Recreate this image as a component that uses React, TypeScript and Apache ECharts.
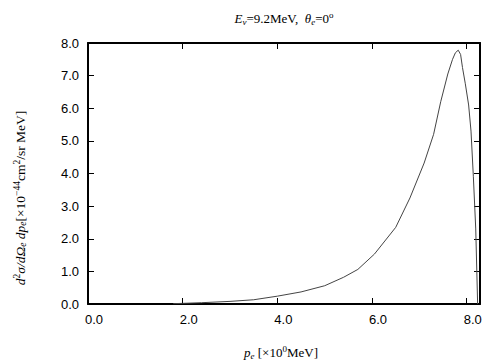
import React, { useEffect, useRef } from "react";
import * as echarts from "echarts";

const pE = [1.8, 2.0, 2.4, 3.0, 3.5, 4.0, 4.5, 5.0, 5.4, 5.7, 6.05, 6.5, 6.8, 7.1, 7.3, 7.45, 7.6, 7.7, 7.76, 7.82, 7.87, 7.91, 7.97, 8.04, 8.09, 8.14, 8.19, 8.23];
const xsec = [0.01, 0.02, 0.04, 0.08, 0.13, 0.24, 0.37, 0.56, 0.82, 1.06, 1.53, 2.35, 3.25, 4.32, 5.2, 6.2, 7.05, 7.5, 7.7, 7.78, 7.65, 7.25, 6.75, 6.1, 5.3, 3.9, 2.3, 0.0];
const xTicks = [0, 2, 4, 6, 8];
const yTicks = [0, 1, 2, 3, 4, 5, 6, 7, 8];

const serif = "'Liberation Serif', 'Times New Roman', serif";
const sans = "'Liberation Sans', Arial, sans-serif";

export default function App() {
  const ref = useRef<HTMLDivElement>(null);
  useEffect(() => {
    const chart = echarts.init(ref.current!, null, { renderer: "svg" });
    const mk = (fs: number, sfs: number) => {
      const main = { fontFamily: serif, fontSize: fs, lineHeight: fs + 3, color: "#000" };
      return {
        m: main,
        i: { ...main, fontStyle: "italic" },
        sup: { fontFamily: serif, fontSize: sfs, lineHeight: sfs, verticalAlign: "top", color: "#000" },
        sub: { fontFamily: serif, fontSize: sfs, lineHeight: sfs, verticalAlign: "bottom", color: "#000", fontStyle: "italic" },
      };
    };
    const rich = mk(13, 9);
    const richY = mk(13.5, 9.5);
    const axisLine = { show: true, onZero: false, lineStyle: { color: "#000", width: 2 } };
    const tick = { show: true, inside: true, length: 6, lineStyle: { color: "#000", width: 1 } };
    chart.setOption({
      animation: false,
      grid: { left: 88, right: 24, top: 43, bottom: 56, containLabel: false },
      xAxis: [
        {
          type: "value", min: 0, max: 8.28, interval: 2, position: "bottom",
          axisLine, axisTick: tick, splitLine: { show: false },
          axisLabel: {
            showMaxLabel: false, margin: 9, fontFamily: sans, fontSize: 13, color: "#000",
            padding: [0, 0, 0, 12],
            formatter: (v: number) => (xTicks.includes(v) ? v.toFixed(1) : ""),
          },
        },
        {
          type: "value", min: 0, max: 8.28, interval: 2, position: "top",
          axisLine, axisTick: tick, splitLine: { show: false }, axisLabel: { show: false },
        },
      ],
      yAxis: [
        {
          type: "value", min: 0, max: 8, interval: 1, position: "left",
          axisLine, axisTick: tick, splitLine: { show: false },
          axisLabel: {
            margin: 9, fontFamily: sans, fontSize: 13, color: "#000",
            formatter: (v: number) => (yTicks.includes(v) ? v.toFixed(1) : ""),
          },
        },
        {
          type: "value", min: 0, max: 8, interval: 1, position: "right",
          axisLine, axisTick: tick, splitLine: { show: false }, axisLabel: { show: false },
        },
      ],
      series: [
        {
          type: "line",
          data: pE.map((p, i) => [p, xsec[i]]),
          showSymbol: false,
          symbol: "none",
          smooth: false,
          lineStyle: { color: "#444", width: 1 },
        },
      ],
      graphic: [
        {
          type: "text", x: 284, y: 18,
          style: {
            text: "{i|E}{sub|ν}{m|=9.2MeV,  }{i|θ}{sub|e}{m|=0}{sup|o}",
            rich, align: "center", verticalAlign: "middle",
          },
        },
        {
          type: "text", x: 281, y: 352,
          style: {
            text: "{i|p}{sub|e}{m| [×10}{sup|0}{m|MeV]}",
            rich, align: "center", verticalAlign: "middle",
          },
        },
        {
          type: "text", x: 20, y: 198, rotation: Math.PI / 2,
          style: {
            text: "{i|d}{sup|2}{i|σ/dΩ}{sub|e}{i| dp}{sub|e}{m|[×10}{sup|−44}{m|cm}{sup|2}{m|/sr MeV]}",
            rich: richY, align: "center", verticalAlign: "middle",
          },
        },
      ],
    });
    return () => chart.dispose();
  }, []);
  return <div ref={ref} style={{ width: 504, height: 360, position: "absolute", left: 0, top: 0, background: "#fff" }} />;
}
